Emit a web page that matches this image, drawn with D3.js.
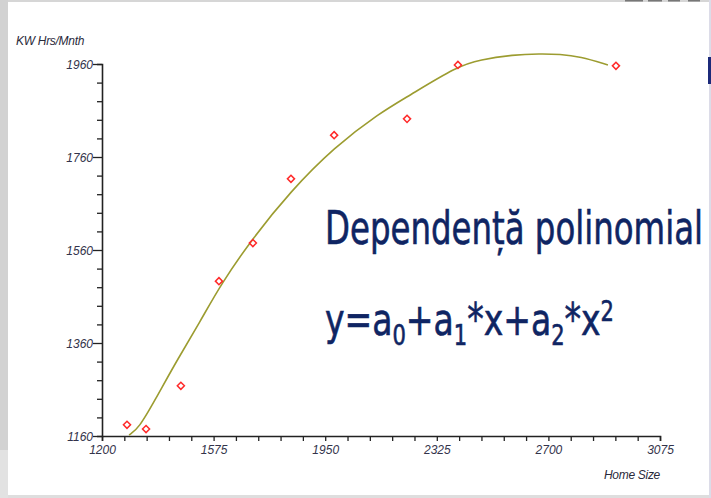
<!DOCTYPE html>
<html>
<head>
<meta charset="utf-8">
<script src="https://cdn.jsdelivr.net/npm/d3@7"></script>
<style>
  body { margin: 0; background: #fff; }
  .tick text { font-family: "Liberation Sans", Arial, sans-serif; font-style: italic; font-size: 12px; fill: #33334a; }
</style>
</head>
<body>
<div id="chart"></div>
<script>
// data
var homeSize = [1284, 1348, 1465, 1593, 1707, 1835, 1980, 2225, 2396, 2927];
var kwHours = [1184, 1175, 1268, 1493, 1575, 1713, 1807, 1842, 1958, 1956];

// fitted curve, read point by point
var fitX = [1291, 1324, 1378, 1452, 1529, 1600, 1707, 1832, 1980, 2134, 2225, 2396, 2470, 2581, 2672, 2739, 2806, 2900];
var fitY = [1162, 1177, 1237, 1323, 1405, 1487, 1586, 1685, 1781, 1855, 1889, 1956, 1969, 1980, 1982, 1981, 1976, 1958];

var xTicks = [1200, 1575, 1950, 2325, 2700, 3075];
var yTicks = [1160, 1360, 1560, 1760, 1960];

var svgWidth = 711;
var svgHeight = 498;

var margin = { top: 64, right: 51, bottom: 62, left: 102 };
var width = svgWidth - margin.left - margin.right;
var height = svgHeight - margin.top - margin.bottom;

var svg = d3.select("#chart")
  .append("svg")
  .attr("width", svgWidth)
  .attr("height", svgHeight);

// slide frame bits
svg.append("rect").attr("x", 0).attr("y", 0).attr("width", 8).attr("height", 450).attr("fill", "#d2d2d2");
svg.append("rect").attr("x", 0).attr("y", 450).attr("width", 8).attr("height", 48).attr("fill", "#e2e2e2");
svg.append("rect").attr("x", 8).attr("y", 0).attr("width", 703).attr("height", 2).attr("fill", "#d6d6d6");
svg.append("rect").attr("x", 8).attr("y", 495).attr("width", 703).attr("height", 3).attr("fill", "#dedede");
svg.append("rect").attr("x", 709).attr("y", 0).attr("width", 2).attr("height", 498).attr("fill", "#dcdce8");
svg.append("rect").attr("x", 708).attr("y", 57).attr("width", 3).attr("height", 27).attr("fill", "#1c2a7a");
[[625, 18], [648, 14], [668, 12], [688, 12]].forEach(function(b) {
  svg.append("rect").attr("x", b[0]).attr("y", 0).attr("width", b[1]).attr("height", 1.5).attr("fill", "#777");
});

var chartGroup = svg.append("g")
  .attr("transform", `translate(${margin.left}, ${margin.top})`);

var xScale = d3.scaleLinear().domain([1200, 3075]).range([0, width]);
var yScale = d3.scaleLinear().domain([1160, 1960]).range([height, 0]);

// x axis, minor ticks every 75
var xAxis = d3.axisBottom(xScale)
  .tickValues(d3.range(1200, 3076, 75))
  .tickSize(5)
  .tickPadding(4)
  .tickFormat(d => xTicks.indexOf(d) >= 0 ? d : "");

var xg = chartGroup.append("g")
  .attr("transform", `translate(0, ${height})`)
  .call(xAxis);
xg.select(".domain").attr("stroke", "#222").attr("stroke-width", 1.6);
xg.selectAll(".tick line").attr("stroke", "#222").attr("stroke-width", 1.3);

// y axis, minor ticks every 40
var yAxis = d3.axisLeft(yScale)
  .tickValues(d3.range(1160, 1961, 40))
  .tickSize(5)
  .tickPadding(1)
  .tickFormat(d => yTicks.indexOf(d) >= 0 ? d : "");

var yg = chartGroup.append("g").call(yAxis);
yg.select(".domain").attr("stroke", "#222").attr("stroke-width", 1.6);
yg.selectAll(".tick line")
  .attr("stroke", "#222").attr("stroke-width", 1.3)
  .attr("x2", d => yTicks.indexOf(d) >= 0 ? -9 : -5);
yg.selectAll(".tick text").attr("x", -9).attr("dy", "0.36em");

// fitted curve
var fitData = fitX.map((x, i) => [x, fitY[i]]);
chartGroup.append("path")
  .datum(fitData)
  .attr("fill", "none")
  .attr("stroke", "#9c9c30")
  .attr("stroke-width", 1.6)
  .attr("d", d3.line().x(d => xScale(d[0])).y(d => yScale(d[1])).curve(d3.curveBasis));

// data points
chartGroup.selectAll("path.pt")
  .data(homeSize)
  .enter()
  .append("path")
  .attr("class", "pt")
  .attr("transform", (d, i) => `translate(${xScale(d)}, ${yScale(kwHours[i])})`)
  .attr("d", d3.symbol(d3.symbolDiamond2, 32))
  .attr("fill", "none")
  .attr("stroke", "#ff2a2a")
  .attr("stroke-width", 1.5);

// axis labels
chartGroup.append("text")
  .attr("x", -86)
  .attr("y", -19)
  .style("font-family", "Liberation Sans, Arial, sans-serif")
  .style("font-style", "italic")
  .style("font-size", "12px")
  .style("letter-spacing", "-0.3px")
  .attr("fill", "#2a2a3a")
  .text("KW Hrs/Mnth");

chartGroup.append("text")
  .attr("x", width)
  .attr("y", height + 43)
  .attr("text-anchor", "end")
  .style("font-family", "Liberation Sans, Arial, sans-serif")
  .style("font-style", "italic")
  .style("font-size", "12px")
  .style("letter-spacing", "-0.3px")
  .attr("fill", "#2a2a3a")
  .text("Home Size");

// slide caption
var cap = svg.append("g")
  .style("font-family", "Liberation Sans Narrow, DejaVu Sans Condensed, sans-serif")
  .attr("fill", "#0f2563")
  .attr("stroke", "#0f2563")
  .attr("stroke-width", 0.6);

cap.append("text")
  .attr("x", 325)
  .attr("y", 244)
  .style("font-size", "47px")
  .attr("textLength", 378)
  .attr("lengthAdjust", "spacingAndGlyphs")
  .text("Dependență polinomial");

var eq = cap.append("text")
  .attr("x", 325)
  .attr("y", 335)
  .style("font-size", "44px")
  .attr("textLength", 289)
  .attr("lengthAdjust", "spacingAndGlyphs");
eq.append("tspan").text("y=a");
eq.append("tspan").attr("dy", 10).style("font-size", "28px").text("0");
eq.append("tspan").attr("dy", -10).text("+a");
eq.append("tspan").attr("dy", 10).style("font-size", "28px").text("1");
eq.append("tspan").attr("dy", -10).text("*x+a");
eq.append("tspan").attr("dy", 10).style("font-size", "28px").text("2");
eq.append("tspan").attr("dy", -10).text("*x");
eq.append("tspan").attr("dy", -14).style("font-size", "28px").text("2");
</script>
</body>
</html>
